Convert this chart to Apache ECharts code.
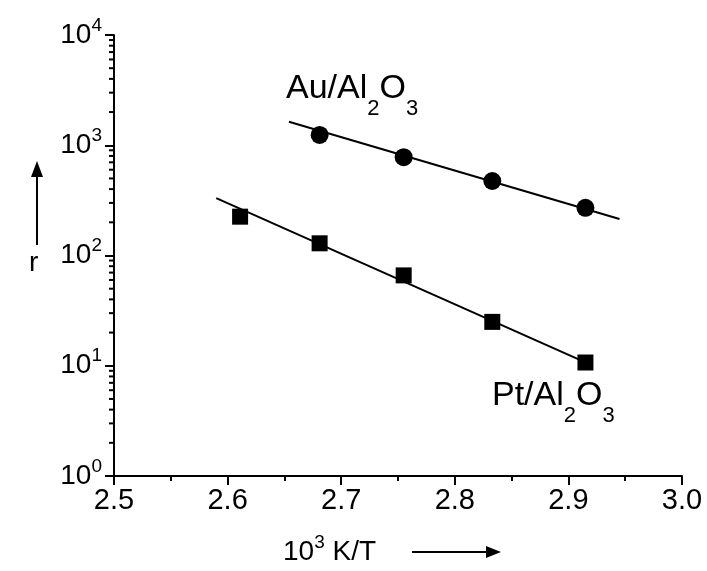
<!DOCTYPE html>
<html>
<head>
<meta charset="utf-8">
<script src="https://cdn.jsdelivr.net/npm/echarts@6/dist/echarts.min.js"></script>
<style>
  html, body { margin: 0; padding: 0; background: #fff; }
  #chart { width: 707px; height: 571px; }
</style>
</head>
<body>
<div id="chart"></div>
<script>
// === Données ===
const auX = [2.681, 2.755, 2.833, 2.915];   // 10^3 K/T
const auR = [1240, 780, 474, 271];
const ptX = [2.611, 2.681, 2.755, 2.833, 2.915];
const ptR = [225, 129, 66, 25, 10.7];
// droites d'ajustement (extrémités)
const auFitX = [2.654, 2.945];
const auFitR = [1636, 214];
const ptFitX = [2.590, 2.916];
const ptFitR = [331, 10.6];

const FONT = "'Liberation Sans', Arial, sans-serif";

// graduations secondaires du log (2..9 par décade)
const yMinor = [];
for (let k = 0; k < 4; k++) {
  for (let m = 2; m <= 9; m++) yMinor.push([2.5, m * Math.pow(10, k)]);
}

function pairs(xs, ys) {
  return xs.map((x, i) => [x, ys[i]]);
}

// texte avec indices (Al2O3)
const subRich = {
  a: { fontSize: 34, fontFamily: FONT, fill: "#000", color: "#000", lineHeight: 38, verticalAlign: "top" },
  s: { fontSize: 22, fontFamily: FONT, fill: "#000", color: "#000", lineHeight: 22, padding: [26, 0, 0, 0], verticalAlign: "top" }
};
// texte avec exposant (10^n)
const supRich = {
  b: { fontSize: 28, fontFamily: FONT, color: "#000", fill: "#000", lineHeight: 38, verticalAlign: "middle" },
  s: { fontSize: 19, fontFamily: FONT, color: "#000", fill: "#000", lineHeight: 19, verticalAlign: "top" }
};

const chart = echarts.init(document.getElementById("chart"));

const option = {
  backgroundColor: "#fff",
  animation: false,
  grid: { left: 114, right: 25, top: 35, bottom: 95 },
  xAxis: {
    type: "value",
    min: 2.5, max: 3.0, interval: 0.1,
    axisLine: { lineStyle: { color: "#000", width: 2 } },
    axisTick: { show: true, length: 9, lineStyle: { color: "#000", width: 2 } },
    minorTick: { show: true, splitNumber: 2, length: 5, lineStyle: { color: "#000", width: 2 } },
    splitLine: { show: false },
    axisLabel: {
      color: "#000", fontSize: 29, fontFamily: FONT, margin: 10,
      formatter: v => v.toFixed(1)
    }
  },
  yAxis: {
    type: "log", logBase: 10, min: 1, max: 10000,
    axisLine: { lineStyle: { color: "#000", width: 2 } },
    axisTick: { show: true, length: 9, lineStyle: { color: "#000", width: 2 } },
    splitLine: { show: false },
    axisLabel: {
      margin: 12,
      formatter: v => "{b|10}{s|" + Math.round(Math.log10(v)) + "}",
      rich: supRich
    }
  },
  series: [
    {
      type: "custom",
      clip: false, silent: true,
      data: yMinor,
      renderItem: (params, api) => {
        const p = api.coord([api.value(0), api.value(1)]);
        return {
          type: "line",
          shape: { x1: p[0] - 5, y1: p[1], x2: p[0], y2: p[1] },
          style: { stroke: "#000", lineWidth: 2 }
        };
      }
    },
    {
      type: "line", data: pairs(auFitX, auFitR), showSymbol: false,
      lineStyle: { color: "#000", width: 2 }, silent: true
    },
    {
      type: "line", data: pairs(ptFitX, ptFitR), showSymbol: false,
      lineStyle: { color: "#000", width: 2 }, silent: true
    },
    {
      type: "scatter", data: pairs(auX, auR), symbol: "circle", symbolSize: 18,
      itemStyle: { color: "#000", opacity: 1 }
    },
    {
      type: "scatter", data: pairs(ptX, ptR), symbol: "rect", symbolSize: 16,
      itemStyle: { color: "#000", opacity: 1 }
    }
  ],
  graphic: [
    // étiquettes des séries
    { type: "text", left: 286, top: 72, style: { text: "{a|Au/Al}{s|2}{a|O}{s|3}", rich: subRich } },
    { type: "text", left: 492, top: 379, style: { text: "{a|Pt/Al}{s|2}{a|O}{s|3}", rich: subRich } },
    // titre axe X avec flèche
    { type: "text", left: 283, top: 533, style: { text: "{b|10}{s|3}{b| K/T}", rich: supRich } },
    { type: "line", shape: { x1: 412, y1: 552, x2: 488, y2: 552 }, style: { stroke: "#000", lineWidth: 2 } },
    { type: "polygon", shape: { points: [[486, 546], [501, 552], [486, 558]] }, style: { fill: "#000" } },
    // titre axe Y avec flèche
    { type: "text", left: 29, top: 249, style: { text: "r", fontSize: 28, fontFamily: FONT, fill: "#000" } },
    { type: "line", shape: { x1: 37, y1: 245, x2: 37, y2: 175 }, style: { stroke: "#000", lineWidth: 2 } },
    { type: "polygon", shape: { points: [[31, 177], [37, 161], [43, 177]] }, style: { fill: "#000" } }
  ]
};

chart.setOption(option);
window.addEventListener("resize", () => chart.resize());
</script>
</body>
</html>
